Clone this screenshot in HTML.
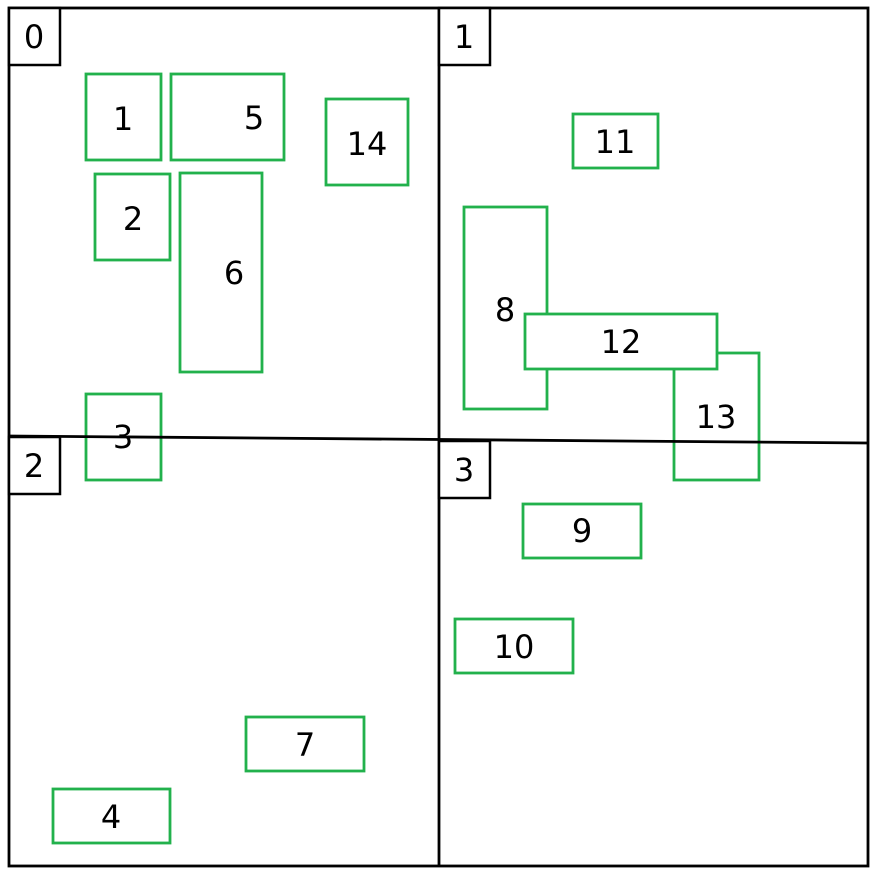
<!DOCTYPE html>
<html><head><meta charset="utf-8"><style>
html,body{margin:0;padding:0;background:#fff;}
svg{display:block;}
text{font-family:"DejaVu Sans","Liberation Sans",sans-serif;font-size:32px;fill:#000;}
</style></head><body>
<svg width="872" height="870" viewBox="0 0 872 870">
<rect x="9" y="8" width="859" height="858" fill="#fff" stroke="#000" stroke-width="2.8"/>
<line x1="439" y1="8" x2="439" y2="866" stroke="#000" stroke-width="2.8"/>
<g id="rects" fill="#fff" stroke="#22b14c" stroke-width="2.8"></g>
<line x1="9" y1="436" x2="868" y2="443" stroke="#000" stroke-width="2.8"/>
<g id="labels"></g>
</svg>
<script>
const ids=[1,5,14,2,6,3,11,8,13,12,9,10,7,4];
const x0=[86,171,326,95,180,86,573,464,674,525,523,455,246,53];
const x1=[161,284,408,170,262,161,658,547,759,717,641,573,364,170];
const y0=[74,74,99,174,173,394,114,207,353,314,504,619,717,789];
const y1=[160,160,185,260,372,480,168,409,480,369,558,673,771,843];
const tx=[123,254,367,133,234,123,615,505,716,621,582,514,305,111];
const ty=[119,118,144,219,273,437,142,310,417,342,531,647,745,817];
const quadIds=["0","1","2","3"];
const qx=[9,439,9,439];
const qy=[8,8,437,441];
const NS="http://www.w3.org/2000/svg";
const g=document.getElementById('rects');
for(let i=0;i<ids.length;i++){
 const r=document.createElementNS(NS,'rect');
 r.setAttribute('x',x0[i]);r.setAttribute('y',y0[i]);
 r.setAttribute('width',x1[i]-x0[i]);r.setAttribute('height',y1[i]-y0[i]);
 
 
 g.appendChild(r);
}
const L=document.getElementById('labels');
for(let i=0;i<quadIds.length;i++){
 const r=document.createElementNS(NS,'rect');
 r.setAttribute('x',qx[i]);r.setAttribute('y',qy[i]);r.setAttribute('width',51);r.setAttribute('height',57);
 r.setAttribute('fill','#fff');r.setAttribute('stroke','#000');r.setAttribute('stroke-width','2.5');
 
 
 L.appendChild(r);
 const t=document.createElementNS(NS,'text');
 t.setAttribute('x',qx[i]+25);t.setAttribute('y',qy[i]+29);
 t.setAttribute('text-anchor','middle');t.setAttribute('dominant-baseline','central');
 t.textContent=quadIds[i];
 
 
 L.appendChild(t);
}
for(let i=0;i<ids.length;i++){
 const t=document.createElementNS(NS,'text');
 t.setAttribute('x',tx[i]);t.setAttribute('y',ty[i]);
 t.setAttribute('text-anchor','middle');t.setAttribute('dominant-baseline','central');
 t.textContent=ids[i];
 
 
 L.appendChild(t);
}
</script>
</body></html>
